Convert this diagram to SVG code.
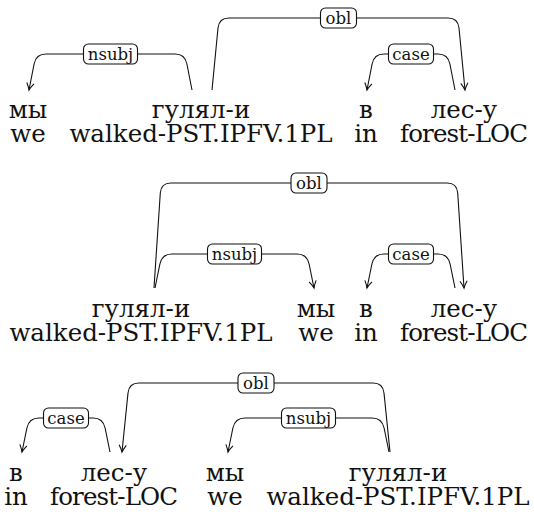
<svg xmlns="http://www.w3.org/2000/svg" width="534" height="515" viewBox="0 0 534 515">
  <style>
    text { font-family: "DejaVu Serif", "Liberation Serif", serif; fill: #111; text-anchor: middle; }
    .w { font-size: 24.5px; }
    .edge { fill: none; stroke: #111; stroke-width: 1.1; marker-end: url(#tip); }
    .lbox { fill: #fff; stroke: #111; stroke-width: 1.1; }
    .ltxt { font-size: 16.5px; }
  </style>
  <defs>
    <marker id="tip" viewBox="-8 -5 10 10" refX="0" refY="0" markerWidth="10" markerHeight="10" markerUnits="userSpaceOnUse" orient="auto">
      <path d="M-7,-3.6 Q-2.5,-0.8 0,0 Q-2.5,0.8 -7,3.6" fill="none" stroke="#111" stroke-width="1.1"/>
    </marker>
  </defs>

  <!-- Tree 1: мы гулял-и в лес-у -->
  <g id="tree1">
    <g id="t1-edges">
      <path class="edge" d="M192,90 L186.9,64 Q185,54 175,54 L46,54 Q36,54 34.1,64 L29,90"/>
      <path class="edge" d="M212,90 L218,28 Q219,18 229,18 L448,18 Q458,18 459,28 L465,90"/>
      <path class="edge" d="M455,90 L449.9,64 Q448,54 438,54 L384,54 Q374,54 372.1,64 L367,90"/>
      <g id="t1-l-nsubj"><rect class="lbox" x="83.5" y="44" width="54" height="20" rx="5"/><text class="ltxt" x="110.5" y="59.5">nsubj</text></g>
      <g id="t1-l-obl"><rect class="lbox" x="320.5" y="8" width="36" height="20" rx="5"/><text class="ltxt" x="338.5" y="23.5">obl</text></g>
      <g id="t1-l-case"><rect class="lbox" x="388.5" y="44" width="45" height="20" rx="5"/><text class="ltxt" x="411" y="59.5">case</text></g>
    </g>
    <g id="t1-w1"><text class="w" x="28" y="118">мы</text><text class="w" x="28" y="142">we</text></g>
    <g id="t1-w2"><text class="w" x="201" y="118">гулял-и</text><text class="w" x="201" y="142">walked-PST.IPFV.1PL</text></g>
    <g id="t1-w3"><text class="w" x="366" y="118">в</text><text class="w" x="366" y="142">in</text></g>
    <g id="t1-w4"><text class="w" x="464" y="118">лес-у</text><text class="w" x="464" y="142" textLength="128">forest-LOC</text></g>
  </g>

  <!-- Tree 2: гулял-и мы в лес-у -->
  <g id="tree2">
    <g id="t2-edges">
      <path class="edge" d="M154,288 L160.3,193 Q161,183 171,183 L447,183 Q457,183 457.7,193 L464,288"/>
      <path class="edge" d="M155,288 L159.9,264 Q162,254 172,254 L297,254 Q307,254 309.1,264 L314,288"/>
      <path class="edge" d="M455,288 L450.1,264 Q448,254 438,254 L384,254 Q374,254 371.9,264 L367,288"/>
      <g id="t2-l-obl"><rect class="lbox" x="291" y="173" width="36" height="20" rx="5"/><text class="ltxt" x="309" y="188.5">obl</text></g>
      <g id="t2-l-nsubj"><rect class="lbox" x="207.5" y="244" width="54" height="20" rx="5"/><text class="ltxt" x="234.5" y="259.5">nsubj</text></g>
      <g id="t2-l-case"><rect class="lbox" x="388.5" y="244" width="45" height="20" rx="5"/><text class="ltxt" x="411" y="259.5">case</text></g>
    </g>
    <g id="t2-w1"><text class="w" x="141" y="317">гулял-и</text><text class="w" x="141" y="341">walked-PST.IPFV.1PL</text></g>
    <g id="t2-w2"><text class="w" x="316" y="317">мы</text><text class="w" x="316" y="341">we</text></g>
    <g id="t2-w3"><text class="w" x="366" y="317">в</text><text class="w" x="366" y="341">in</text></g>
    <g id="t2-w4"><text class="w" x="464" y="317">лес-у</text><text class="w" x="464" y="341" textLength="128">forest-LOC</text></g>
  </g>

  <!-- Tree 3: в лес-у мы гулял-и -->
  <g id="tree3">
    <g id="t3-edges">
      <path class="edge" d="M110,452 L105.1,428 Q103,418 93,418 L39,418 Q29,418 26.9,428 L22,452"/>
      <path class="edge" d="M390,452 L384,393 Q383,383 373,383 L139,383 Q129,383 128,393 L122,452"/>
      <path class="edge" d="M389,452 L384.1,428 Q382,418 372,418 L245,418 Q235,418 232.9,428 L228,452"/>
      <g id="t3-l-case"><rect class="lbox" x="43.5" y="408" width="45" height="20" rx="5"/><text class="ltxt" x="66" y="423.5">case</text></g>
      <g id="t3-l-obl"><rect class="lbox" x="238" y="373" width="36" height="20" rx="5"/><text class="ltxt" x="256" y="388.5">obl</text></g>
      <g id="t3-l-nsubj"><rect class="lbox" x="281.5" y="408" width="54" height="20" rx="5"/><text class="ltxt" x="308.5" y="423.5">nsubj</text></g>
    </g>
    <g id="t3-w1"><text class="w" x="16" y="481">в</text><text class="w" x="16" y="505">in</text></g>
    <g id="t3-w2"><text class="w" x="114" y="481">лес-у</text><text class="w" x="114" y="505" textLength="128">forest-LOC</text></g>
    <g id="t3-w3"><text class="w" x="225" y="481">мы</text><text class="w" x="225" y="505">we</text></g>
    <g id="t3-w4"><text class="w" x="398" y="481">гулял-и</text><text class="w" x="398" y="505">walked-PST.IPFV.1PL</text></g>
  </g>
</svg>
